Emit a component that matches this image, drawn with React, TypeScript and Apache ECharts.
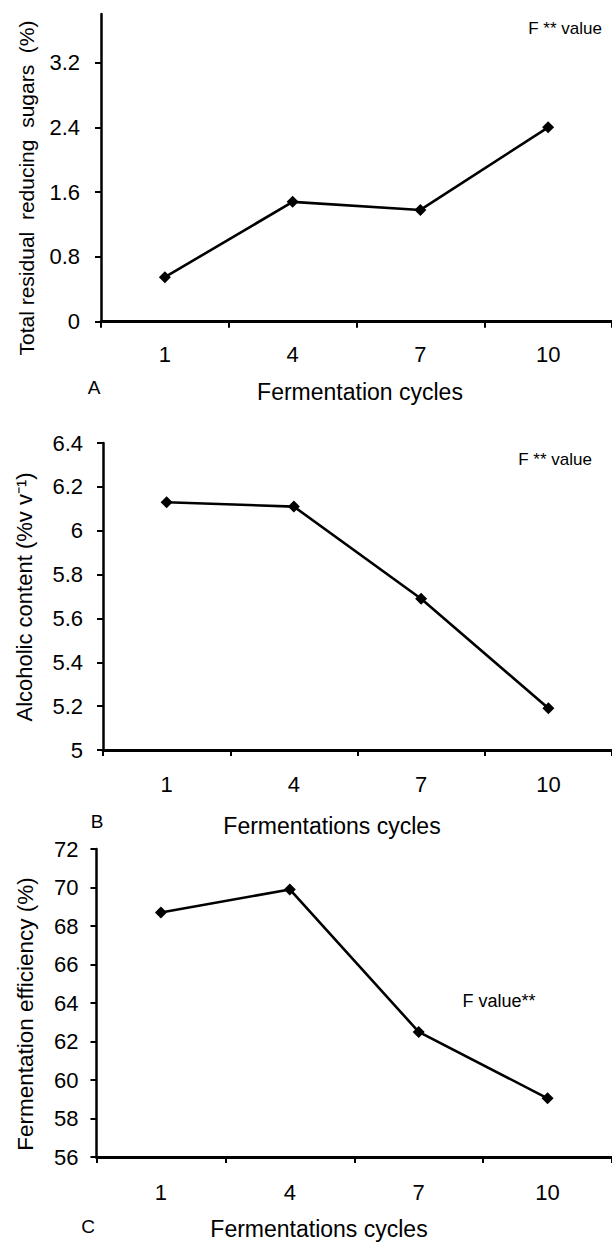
import React, { useEffect, useRef } from "react";
import * as echarts from "echarts";

const cycles = ["1", "4", "7", "10"];
const sugars = [0.55, 1.48, 1.38, 2.4];
const alcohol = [6.13, 6.11, 5.69, 5.19];
const efficiency = [68.7, 69.9, 62.5, 59.05];

const sugarTicks = [0, 0.8, 1.6, 2.4, 3.2];

const FONT = "Liberation Sans, Arial, sans-serif";

export default function App() {
  const ref = useRef<HTMLDivElement>(null);
  useEffect(() => {
    if (!ref.current) return;
    const chart = echarts.init(ref.current, undefined, { renderer: "svg" });

    const axisLine = { show: true, onZero: false, lineStyle: { color: "#000", width: 2.5 } };
    const tick = { show: true, inside: false, length: 6, lineStyle: { color: "#000", width: 2 } };

    const xAxisBase = (gridIndex: number, margin: number) => ({
      type: "category",
      gridIndex,
      data: cycles,
      boundaryGap: true,
      axisLine: { ...axisLine, lineStyle: { color: "#000", width: 3 } },
      axisTick: { ...tick, alignWithLabel: false },
      axisLabel: { color: "#000", fontSize: 22, fontFamily: FONT, margin },
      splitLine: { show: false },
    });

    const yAxisBase = (gridIndex: number, margin: number) => ({
      type: "value",
      gridIndex,
      axisLine,
      axisTick: tick,
      axisLabel: { color: "#000", fontSize: 22, fontFamily: FONT, margin },
      splitLine: { show: false },
    });

    const lineSeries = (idx: number, data: number[]) => ({
      type: "line",
      xAxisIndex: idx,
      yAxisIndex: idx,
      data,
      symbol: "diamond",
      symbolSize: 12,
      lineStyle: { color: "#000", width: 2.6 },
      itemStyle: { color: "#000" },
    });

    const txt = (
      text: string,
      x: number,
      y: number,
      fontSize: number,
      rotation = 0
    ) => ({
      type: "text",
      x,
      y,
      rotation,
      style: {
        text,
        fill: "#000",
        fontSize,
        fontFamily: FONT,
        align: "center",
        verticalAlign: "middle",
      },
    });

    chart.setOption({
      animation: false,
      backgroundColor: "#fff",
      grid: [
        { left: 101, top: 14, width: 518, height: 307.7 },
        { left: 103, top: 443, width: 518, height: 307 },
        { left: 96.5, top: 849, width: 523, height: 308 },
      ],
      xAxis: [xAxisBase(0, 22), xAxisBase(1, 23), xAxisBase(2, 24)],
      yAxis: [
        {
          ...yAxisBase(0, 21),
          min: 0,
          max: 3.8,
          interval: 0.8,
          axisTick: { ...tick, customValues: sugarTicks },
          axisLabel: {
            color: "#000",
            fontSize: 22,
            fontFamily: FONT,
            margin: 21,
            customValues: sugarTicks,
          },
        },
        { ...yAxisBase(1, 20), min: 5, max: 6.4, interval: 0.2 },
        { ...yAxisBase(2, 18), min: 56, max: 72, interval: 2 },
      ],
      series: [
        lineSeries(0, sugars),
        lineSeries(1, alcohol),
        lineSeries(2, efficiency),
      ],
      graphic: [
        txt("Total residual  reducing  sugars  (%)", 26, 188, 21, Math.PI / 2),
        txt("F ** value", 565, 28, 17),
        txt("A", 94, 387, 19),
        txt("Fermentation cycles", 360, 392, 23),

        txt("Alcoholic content (%v v⁻¹)", 24, 597, 22, Math.PI / 2),
        txt("F ** value", 555, 459, 17),
        txt("B", 97, 821, 19),
        txt("Fermentations cycles", 332, 826, 23),

        txt("Fermentation efficiency (%)", 25, 1014, 22.5, Math.PI / 2),
        txt("F value**", 499, 1001, 18),
        txt("C", 88, 1226, 19),
        txt("Fermentations cycles", 319, 1229, 23),
      ],
    });
    return () => chart.dispose();
  }, []);
  return (
    <div
      ref={ref}
      style={{ position: "fixed", left: 0, top: 0, width: 612, height: 1245, background: "#fff" }}
    />
  );
}
